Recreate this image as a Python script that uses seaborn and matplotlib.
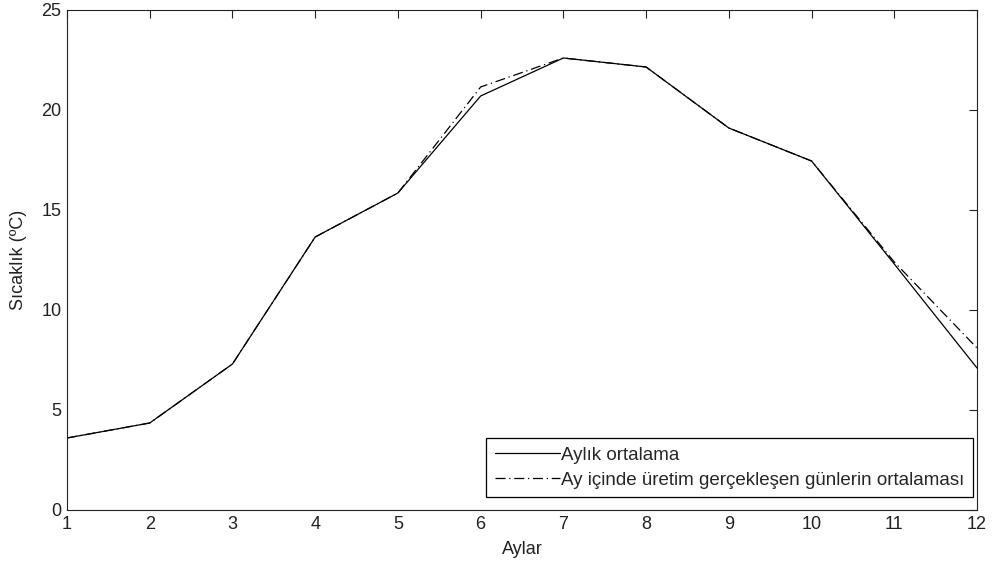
import matplotlib
matplotlib.use("Agg")
import matplotlib.pyplot as plt
import seaborn as sns
import pandas as pd

months = [1, 2, 3, 4, 5, 6, 7, 8, 9, 10, 11, 12]
aylik_ortalama = [3.6, 4.35, 7.3, 13.65, 15.85, 20.7, 22.6, 22.15, 19.1, 17.45, 12.3, 7.1]
uretim_gunleri = [3.6, 4.35, 7.3, 13.65, 15.85, 21.15, 22.6, 22.15, 19.1, 17.45, 12.4, 8.1]
label_a = "Aylık ortalama"
label_b = "Ay içinde üretim gerçekleşen günlerin ortalaması"
x_ticks = list(range(1, 13))
y_ticks = [0, 5, 10, 15, 20, 25]

df = pd.DataFrame({
    "Ay": months * 2,
    "T": aylik_ortalama + uretim_gunleri,
    "Seri": [label_a] * 12 + [label_b] * 12,
})

sns.set_style("white")
plt.rcParams["font.family"] = ["Liberation Sans", "DejaVu Sans"]

fig = plt.figure(figsize=(9.95, 5.69), dpi=100)
ax = fig.add_axes([67 / 995, 59 / 569, 910 / 995, 500 / 569])

sns.lineplot(data=df, x="Ay", y="T", hue="Seri", style="Seri",
             palette={label_a: "black", label_b: "black"},
             dashes={label_a: "", label_b: (8, 3, 1, 3)},
             linewidth=0.9, ax=ax, legend=True)

ax.set_xlim(1, 12)
ax.set_ylim(0, 25)
ax.set_xticks(x_ticks)
ax.set_yticks(y_ticks)
ax.tick_params(direction="in", length=6, width=0.8, top=True, right=True,
               labelsize=13, colors="#222222", pad=4)
for s in ax.spines.values():
    s.set_visible(True)
    s.set_color("#222222")
    s.set_linewidth(0.8)
ax.set_xlabel("Aylar", fontsize=13, color="#222222", labelpad=6)
ax.set_ylabel("Sıcaklık (ºC)", fontsize=13, color="#222222", labelpad=10)

leg = ax.legend(loc="lower right", bbox_to_anchor=(0.9956, 0.026),
                fontsize=13.5, frameon=True, fancybox=False,
                edgecolor="black", framealpha=1, handlelength=3.5,
                handletextpad=0.05, borderpad=0.45, labelspacing=0.4,
                borderaxespad=0.0)
leg.get_frame().set_linewidth(0.9)
for line in leg.get_lines():
    line.set_linewidth(0.9)

fig.savefig("out.png", dpi=100)
